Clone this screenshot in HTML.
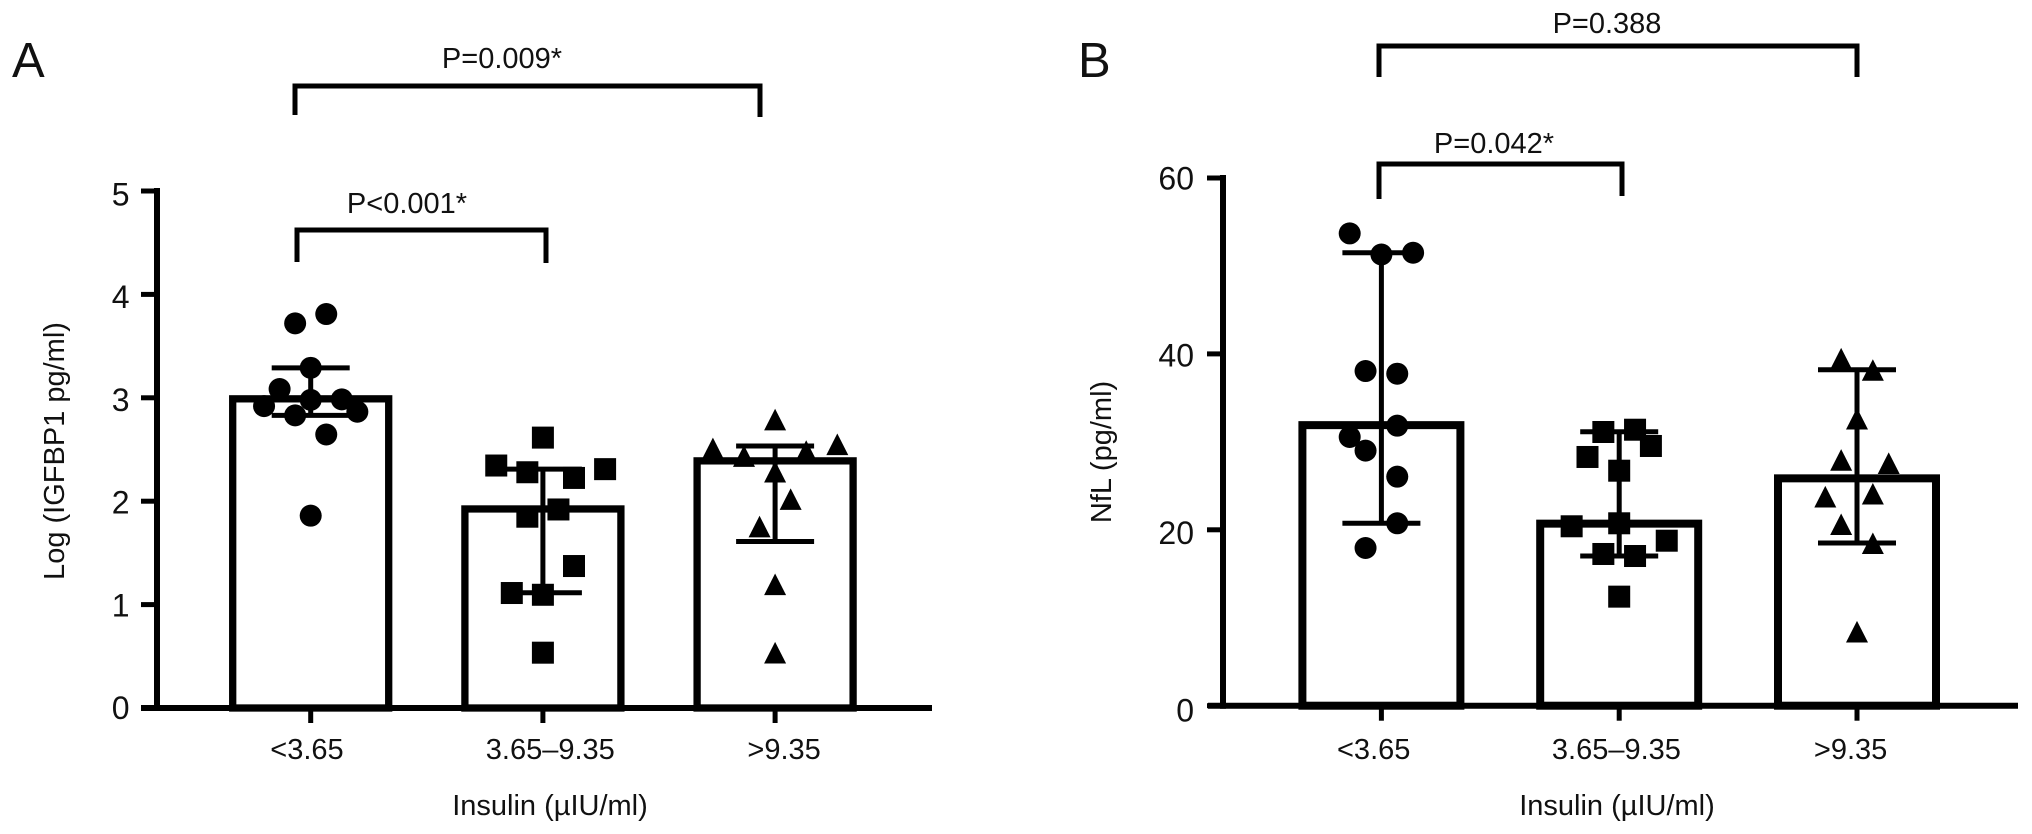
<!DOCTYPE html>
<html lang="en">
<head>
<meta charset="utf-8">
<title>IGFBP1 and NfL by insulin group</title>
<style>
  html, body { margin: 0; padding: 0; background: #fff; }
  body { width: 2032px; height: 834px; overflow: hidden; }
  svg { display: block; }
  text { font-family: "Liberation Sans", Arial, sans-serif; fill: #111; }
</style>
</head>
<body>
<svg id="figure" xmlns="http://www.w3.org/2000/svg" width="2032" height="834" viewBox="0 0 2032 834">
  <rect x="0" y="0" width="2032" height="834" fill="#fff"/>

  <text x="12" y="76.8" font-size="49">A</text>
  <text x="1078" y="77.2" font-size="49">B</text>

  <text transform="translate(64,451) rotate(-90)" text-anchor="middle" font-size="29">Log (IGFBP1 pg/ml)</text>
  <text transform="translate(1111,452) rotate(-90)" text-anchor="middle" font-size="29">NfL (pg/ml)</text>

  <text x="550" y="815" text-anchor="middle" font-size="29">Insulin (µIU/ml)</text>
  <text x="1617" y="815" text-anchor="middle" font-size="29">Insulin (µIU/ml)</text>

  <g fill="none" stroke="#000" stroke-width="5" stroke-linejoin="miter">
    <path d="M295 115 V86 H760 V117"/>
    <path d="M297 262 V230 H546 V263"/>
  </g>
  <text x="502" y="68" text-anchor="middle" font-size="29">P=0.009*</text>
  <text x="407" y="213" text-anchor="middle" font-size="29">P&lt;0.001*</text>

  <g fill="none" stroke="#000" stroke-width="5" stroke-linejoin="miter">
    <path d="M1379 77 V46 H1857 V77"/>
    <path d="M1379 199 V164 H1622 V196"/>
  </g>
  <text x="1607" y="33" text-anchor="middle" font-size="29">P=0.388</text>
  <text x="1494" y="153" text-anchor="middle" font-size="29">P=0.042*</text>
</svg>

<script>
// ---------- Chart data ----------
const categories = ['<3.65', '3.65–9.35', '>9.35'];

const panelATickLabels = [0, 1, 2, 3, 4, 5];
const panelAMeans = [2.99, 1.925, 2.39];
const panelAErrorLow = [2.83, 1.115, 1.61];
const panelAErrorHigh = [3.29, 2.31, 2.534];
const panelALowValues = [3.81, 3.72, 3.29, 3.085, 2.98, 2.985, 2.92, 2.83, 2.865, 2.645, 1.86];
const panelALowBins = [1, -1, 0, -2, 0, 2, -3, -1, 3, 1, 0];
const panelAMidValues = [2.615, 2.345, 2.31, 2.28, 2.225, 1.92, 1.85, 1.373, 1.112, 1.095, 0.535];
const panelAMidBins = [0, -3, 4, -1, 2, 1, -1, 2, -2, 0, 0];
const panelAHighValues = [2.79, 2.51, 2.55, 2.437, 2.485, 2.285, 2.02, 1.755, 1.196, 0.535];
const panelAHighBins = [0, -4, 4, -2, 2, 0, 1, -1, 0, 0];

const panelBTickLabels = [0, 20, 40, 60];
const panelBMeans = [31.9, 20.7, 25.85];
const panelBErrorLow = [20.74, 17.02, 18.5];
const panelBErrorHigh = [51.5, 31.15, 38.2];
const panelBLowValues = [53.7, 51.3, 51.5, 38.05, 37.75, 31.84, 30.55, 29.0, 26.04, 20.74, 17.93];
const panelBLowBins = [-2, 0, 2, -1, 1, 1, -2, -1, 1, 1, -1];
const panelBMidValues = [31.12, 31.38, 29.53, 28.28, 26.72, 20.4, 20.74, 18.76, 17.25, 17.02, 12.4];
const panelBMidBins = [-1, 1, 2, -2, 0, -3, 0, 3, -1, 1, 0];
const panelBHighValues = [39.46, 38.17, 32.63, 27.94, 27.57, 23.76, 24.1, 20.63, 18.47, 8.42];
const panelBHighBins = [-1, 1, 0, -1, 2, -2, 1, -1, 1, 0];

// ---------- Axis functions ----------
function panelAX(i) { return 310.7 + 232.2 * i; }
function panelAY(v) { return 708 - 103.4 * v; }
function panelBX(i) { return 1381.4 + 237.8 * i; }
function panelBY(v) { return 705.7 - 8.795 * v; }

// Baseline of a y tick label relative to its tick (labels drift slightly in the source figure)
function panelALabelDrop(v) { return 11 + 0.7 * v; }
function panelBLabelDrop(v) { return 15.6 - 0.07 * v; }

const SVG_NS = 'http://www.w3.org/2000/svg';
const figure = document.getElementById('figure');

function make(tag, attrs, parent) {
  const el = document.createElementNS(SVG_NS, tag);
  for (const key in attrs) el.setAttribute(key, attrs[key]);
  parent.appendChild(el);
  return el;
}

function drawMarker(shape, cx, cy, parent) {
  if (shape === 'circle') {
    return make('circle', { cx: cx, cy: cy, r: 11, fill: '#000' }, parent);
  }
  if (shape === 'square') {
    return make('rect', { x: cx - 11, y: cy - 11, width: 22, height: 22, fill: '#000' }, parent);
  }
  const pts = (cx - 11) + ',' + (cy + 10.8) + ' ' + (cx + 11) + ',' + (cy + 10.8) + ' ' + cx + ',' + (cy - 10.8);
  return make('polygon', { points: pts, fill: '#000' }, parent);
}

function drawPanel(p) {
  const prefix = p.id;
  const root = make('g', {}, figure);
  
  

  // Bars
  p.means.forEach(function (mean, i) {
    const cx = p.x(i);
    const bar = make('rect', {
      x: cx - p.barWidth / 2, y: p.y(mean),
      width: p.barWidth, height: p.y(0) - p.y(mean),
      fill: 'none', stroke: '#000', 'stroke-width': p.barStroke
    }, root);
    
    
  });

  // Error bars
  p.errLow.forEach(function (low, i) {
    const cx = p.x(i);
    const high = p.errHigh[i];
    const group = make('g', { stroke: '#000', 'stroke-width': 5, fill: 'none' }, root);
    
    
    make('line', { x1: cx, x2: cx, y1: p.y(high), y2: p.y(low) }, group);
    make('line', { x1: cx - 39, x2: cx + 39, y1: p.y(high), y2: p.y(high) }, group);
    make('line', { x1: cx - 39, x2: cx + 39, y1: p.y(low), y2: p.y(low) }, group);
  });

  // Individual points
  p.groups.forEach(function (g, i) {
    const cx = p.x(i);
    g.values.forEach(function (v, k) {
      const m = drawMarker(g.shape, cx + g.bins[k] * p.binStep, p.y(v), root);
      
      
    });
  });

  // Y axis
  const yTop = p.y(p.ticks[p.ticks.length - 1]) - 3;
  const yAxis = make('line', {
    x1: p.axisX, x2: p.axisX, y1: yTop, y2: p.y(0) + 3,
    stroke: '#000', 'stroke-width': 6
  }, root);
  
  

  p.ticks.forEach(function (t) {
    const tick = make('line', {
      x1: p.axisX - 16, x2: p.axisX, y1: p.y(t), y2: p.y(t),
      stroke: '#000', 'stroke-width': 5
    }, root);
    
    

    const label = make('text', {
      x: p.yLabelX, y: p.y(t) + p.labelDrop(t), 'text-anchor': 'end', 'font-size': 32
    }, root);
    label.textContent = String(t);
    
    
  });

  // X axis
  const xAxis = make('line', {
    x1: p.xAxisLeft, x2: p.xAxisRight, y1: p.y(0), y2: p.y(0),
    stroke: '#000', 'stroke-width': 6
  }, root);
  
  

  categories.forEach(function (c, i) {
    const tick = make('line', {
      x1: p.x(i), x2: p.x(i), y1: p.y(0), y2: p.y(0) + 15,
      stroke: '#000', 'stroke-width': 5
    }, root);
    
    

    const label = make('text', {
      x: p.x(i) + p.labelNudge[i], y: 759, 'text-anchor': 'middle', 'font-size': 29
    }, root);
    label.textContent = c;
    
    
  });
}

drawPanel({
  id: 'panel-a', x: panelAX, y: panelAY, ticks: panelATickLabels,
  means: panelAMeans, errLow: panelAErrorLow, errHigh: panelAErrorHigh,
  groups: [
    { shape: 'circle', values: panelALowValues, bins: panelALowBins },
    { shape: 'square', values: panelAMidValues, bins: panelAMidBins },
    { shape: 'triangle', values: panelAHighValues, bins: panelAHighBins }
  ],
  barWidth: 156, barStroke: 7.3, binStep: 15.55,
  axisX: 157, yLabelX: 129.5, xAxisLeft: 141, xAxisRight: 932,
  labelDrop: panelALabelDrop,
  labelNudge: [-3.7, 7.4, 9]
});

drawPanel({
  id: 'panel-b', x: panelBX, y: panelBY, ticks: panelBTickLabels,
  means: panelBMeans, errLow: panelBErrorLow, errHigh: panelBErrorHigh,
  groups: [
    { shape: 'circle', values: panelBLowValues, bins: panelBLowBins },
    { shape: 'square', values: panelBMidValues, bins: panelBMidBins },
    { shape: 'triangle', values: panelBHighValues, bins: panelBHighBins }
  ],
  barWidth: 158, barStroke: 8, binStep: 15.85,
  axisX: 1223, yLabelX: 1194, xAxisLeft: 1208, xAxisRight: 2018,
  labelDrop: panelBLabelDrop,
  labelNudge: [-7.7, -2.8, -6.4]
});
</script>
</body>
</html>
